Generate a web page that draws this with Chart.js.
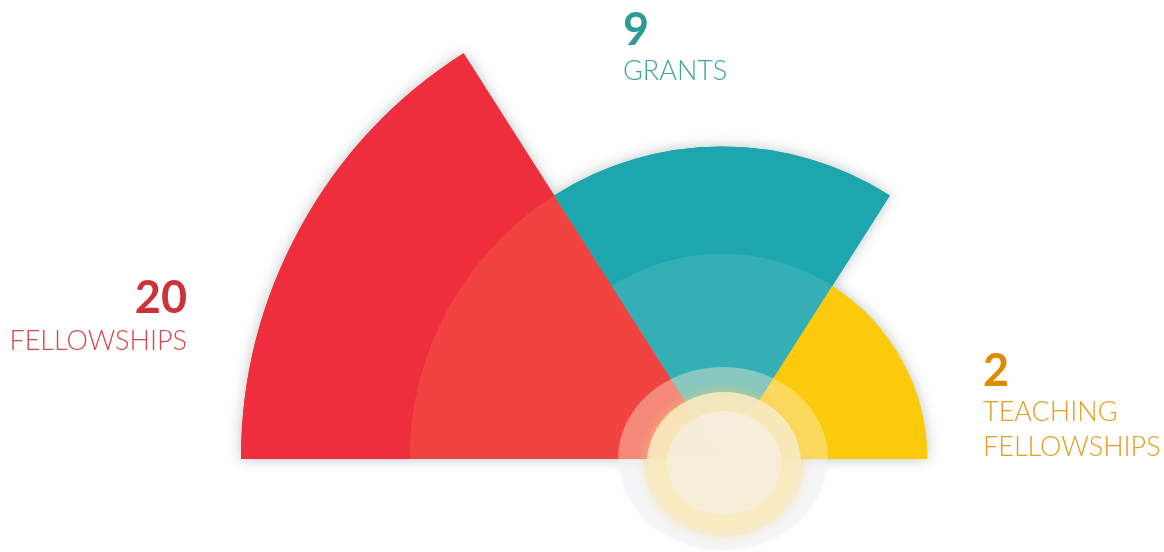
<!DOCTYPE html>
<html>
<head>
<meta charset="utf-8">
<script src="https://cdn.jsdelivr.net/npm/chart.js@4/dist/chart.umd.min.js"></script>
<style>
  html, body { margin: 0; padding: 0; background: #ffffff; }
  #wrap { width: 1164px; height: 552px; position: relative; }
</style>
</head>
<body>
<div id="wrap"><canvas id="awards" width="1164" height="552"></canvas></div>
<script>
// Award counts by programme
const categories = [['FELLOWSHIPS'], ['GRANTS'], ['TEACHING', 'FELLOWSHIPS']];
const counts = [20, 9, 2];

// Look of each wedge (angles in degrees, they add up to a half circle)
const sectorAngles = [57.5, 65, 57.5];
const sectorColors = ['#EE2D3D', '#1DA6AD', '#FBCB0B'];
const innerTints = ['rgba(255,170,80,0.19)', 'rgba(255,255,255,0.11)', null];

// Label placement and colours
const labelStyle = [
    { x: 187, align: 'right', numY: 313, lineY: [350], numColor: '#CE3238', textColor: '#D6464B' },
    { x: 623, align: 'left', numY: 45, lineY: [80], numColor: '#2F9B99', textColor: '#3FA4A3' },
    { x: 983, align: 'left', numY: 386, lineY: [421, 456], numColor: '#DD8C00', textColor: '#E59D22' }
];

const center = { x: 722, y: 459 };

// soft halo under the wedges
const haloPlugin = {
    id: 'halo',
    beforeDatasetsDraw(chart) {
        const ctx = chart.ctx;
        chart.getDatasetMeta(0).data.forEach(arc => {
            ctx.save();
            ctx.shadowColor = 'rgba(70,80,90,0.35)';
            ctx.shadowBlur = 14;
            arc.draw(ctx);
            ctx.restore();
        });
    }
};

// lighter band inside each wedge + the glowing disc at the centre
const decorPlugin = {
    id: 'decor',
    afterDatasetsDraw(chart) {
        const ctx = chart.ctx;
        const scale = chart.scales.r;
        const arcs = chart.getDatasetMeta(0).data;
        arcs.forEach((arc, i) => {
            if (!innerTints[i] || i + 1 >= counts.length) return;
            const r = scale.getDistanceFromCenterForValue(counts[i + 1]);
            ctx.save();
            ctx.beginPath();
            ctx.moveTo(arc.x, arc.y);
            ctx.arc(arc.x, arc.y, r, arc.startAngle, arc.endAngle);
            ctx.closePath();
            ctx.fillStyle = innerTints[i];
            ctx.fill();
            ctx.restore();
        });

        const cx = scale.xCenter, cy = scale.yCenter;

        // outer translucent ring
        ctx.save();
        ctx.beginPath();
        ctx.rect(0, 0, chart.width, cy + 1);
        ctx.clip();
        ctx.beginPath();
        ctx.ellipse(cx + 1, cy, 105, 92, 0, 0, Math.PI * 2);
        ctx.fillStyle = 'rgba(250,236,208,0.42)';
        ctx.fill();
        ctx.restore();

        ctx.save();
        ctx.beginPath();
        ctx.rect(0, cy + 1, chart.width, chart.height);
        ctx.clip();
        ctx.beginPath();
        ctx.ellipse(cx + 1, cy, 104, 91, 0, 0, Math.PI * 2);
        ctx.shadowColor = 'rgba(225,228,232,0.5)';
        ctx.shadowBlur = 6;
        ctx.fillStyle = 'rgba(243,244,246,0.6)';
        ctx.fill();
        ctx.restore();

        // middle disc with yellow glow
        ctx.save();
        ctx.beginPath();
        ctx.ellipse(cx + 2, cy + 4, 77, 71, 0, 0, Math.PI * 2);
        ctx.shadowColor = 'rgba(245,205,90,0.75)';
        ctx.shadowBlur = 12;
        ctx.fillStyle = 'rgba(249,236,200,0.85)';
        ctx.fill();
        ctx.restore();

        // inner disc
        ctx.save();
        ctx.beginPath();
        ctx.ellipse(cx + 2, cy + 4, 57, 52, 0, 0, Math.PI * 2);
        ctx.fillStyle = 'rgba(245,238,220,0.93)';
        ctx.fill();
        ctx.restore();
    }
};

// number + caption beside each wedge
const labelPlugin = {
    id: 'labels',
    afterDraw(chart) {
        const ctx = chart.ctx;
        const values = chart.data.datasets[0].data;
        chart.data.labels.forEach((lines, i) => {
            const st = labelStyle[i];
            ctx.save();
            ctx.textAlign = st.align;
            ctx.textBaseline = 'alphabetic';
            ctx.fillStyle = st.numColor;
            ctx.font = 'bold 45px Lato, "Open Sans", sans-serif';
            ctx.fillText(String(values[i]), st.x, st.numY);
            ctx.fillStyle = st.textColor;
            ctx.font = '300 27px Lato, "Open Sans", sans-serif';
            lines.forEach((line, k) => ctx.fillText(line, st.x, st.lineY[k]));
            ctx.restore();
        });
    }
};

new Chart(document.getElementById('awards'), {
    type: 'polarArea',
    data: {
        labels: categories,
        datasets: [{
            data: counts,
            backgroundColor: sectorColors,
            angle: sectorAngles,
            borderWidth: 0,
            clip: false
        }]
    },
    options: {
        responsive: false,
        animation: false,
        layout: { padding: 0 },
        plugins: {
            legend: { display: false },
            tooltip: { enabled: false }
        },
        scales: {
            r: {
                min: -11.4,
                max: 20,
                startAngle: -90,
                grid: { display: false },
                angleLines: { display: false },
                ticks: { display: false },
                pointLabels: { display: false },
                afterFit(scale) {
                    scale.xCenter = center.x;
                    scale.yCenter = center.y;
                    scale.drawingArea = 481;
                }
            }
        }
    },
    plugins: [haloPlugin, decorPlugin, labelPlugin]
});
</script>
</body>
</html>
